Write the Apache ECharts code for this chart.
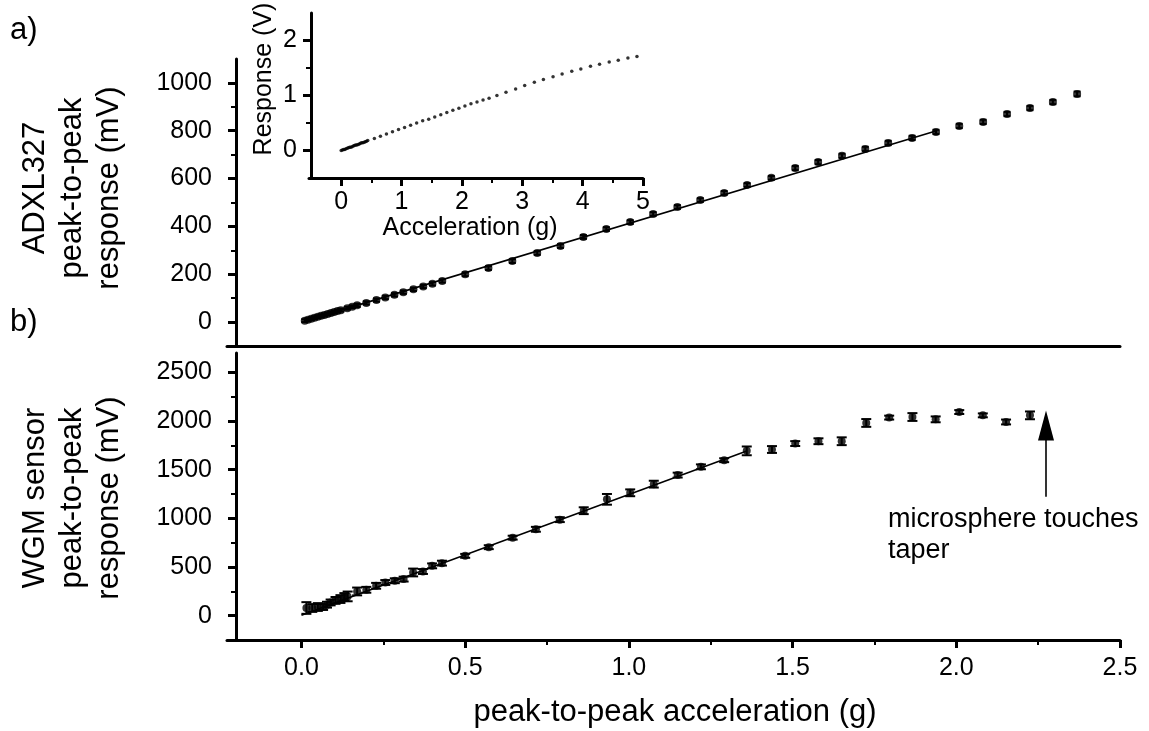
<!DOCTYPE html>
<html>
<head>
<meta charset="utf-8">
<script src="https://cdn.jsdelivr.net/npm/echarts@6/dist/echarts.min.js"></script>
<style>
  html, body { margin: 0; padding: 0; background: #fff; }
  #chart { width: 1149px; height: 731px; }
</style>
</head>
<body>
<div id="chart"></div>
<script>
// a) ADXL327 accelerometer: peak-to-peak acceleration (g) vs response (mV)
const adxlAccel = [0.01, 0.02, 0.03, 0.04, 0.05, 0.06, 0.07, 0.08, 0.09, 0.10, 0.11, 0.12, 0.14, 0.155,
  0.170, 0.198, 0.229, 0.256, 0.284, 0.311, 0.342, 0.372, 0.400, 0.430, 0.500, 0.571, 0.644, 0.720,
  0.791, 0.861, 0.931, 1.004, 1.074, 1.148, 1.218, 1.291, 1.361, 1.435, 1.508, 1.578, 1.651, 1.722,
  1.792, 1.865, 1.938, 2.009, 2.082, 2.155, 2.225, 2.295, 2.369];
const adxlResp = [6, 10, 14, 18, 22, 26, 30, 34, 38, 42, 46, 50, 58, 64,
  70, 80, 92, 103, 114, 125, 137, 149, 160, 172, 200, 226, 255, 289,
  318, 356, 389, 418, 452, 481, 510, 540, 573, 603, 644, 669, 695, 724,
  749, 770, 795, 820, 837, 870, 895, 920, 954];
const adxlErr = [6, 6, 6, 6, 6, 6, 6, 6, 6, 6, 6, 6, 6, 6,
  7, 7, 7, 7, 7, 7, 7, 7, 7, 7, 8, 8, 8, 8,
  8, 8, 8, 8, 8, 8, 8, 8, 8, 8, 9, 9, 9, 9,
  9, 9, 9, 9, 9, 9, 9, 9, 10];
const adxlFit = [[0.01, 4], [1.94, 800]];

// b) WGM sensor: peak-to-peak acceleration (g) vs response (mV)
const wgmAccel = [0.015, 0.033, 0.050, 0.066, 0.078, 0.089, 0.104, 0.119, 0.131, 0.141, 0.170, 0.198,
  0.228, 0.256, 0.285, 0.312, 0.341, 0.371, 0.399, 0.429, 0.500, 0.572, 0.645, 0.716, 0.789, 0.862,
  0.933, 1.004, 1.076, 1.149, 1.220, 1.291, 1.360, 1.437, 1.508, 1.579, 1.650, 1.725, 1.795, 1.866,
  1.937, 2.009, 2.081, 2.152, 2.225];
const wgmResp = [79, 79, 89, 89, 113, 136, 157, 171, 192, 198, 249, 266,
  307, 341, 359, 376, 444, 454, 512, 540, 615, 704, 802, 888, 987, 1079,
  1196, 1263, 1352, 1445, 1530, 1598, 1694, 1708, 1769, 1793, 1793, 1981, 2036, 2042,
  2018, 2093, 2059, 1991, 2059];
const wgmErr = [60, 40, 40, 30, 30, 30, 35, 40, 40, 50, 40, 30,
  30, 25, 25, 25, 40, 25, 25, 25, 20, 20, 20, 25, 25, 35,
  55, 35, 35, 25, 25, 20, 45, 35, 25, 30, 40, 40, 20, 40,
  30, 20, 20, 25, 40];
const wgmFit = [[0.0, 5], [1.36, 1693]];

// arrow marking where the microsphere touches the taper (tail, head centre)
const arrowAccel = [2.274, 2.274];
const arrowResp = [1222, 1955];
const noteText = ['microsphere touches', 'taper'];

// inset: ADXL327 response (V) over the full 0-5 g range
const insetAccel = [0.00, 0.02, 0.04, 0.06, 0.08, 0.10, 0.12, 0.14, 0.16, 0.18, 0.20, 0.22, 0.24, 0.26,
  0.28, 0.30, 0.32, 0.34, 0.36, 0.38, 0.40, 0.42, 0.44,
  0.55, 0.65, 0.75, 0.85, 0.95, 1.05, 1.15, 1.25, 1.35, 1.45, 1.55, 1.65, 1.75, 1.85, 1.95, 2.05,
  2.15, 2.25, 2.35, 2.45,
  2.58, 2.73, 2.89, 3.04, 3.20, 3.35, 3.51, 3.66, 3.82, 3.97, 4.13, 4.28, 4.44, 4.59, 4.75, 4.90];
const insetResp = [0.00, 0.01, 0.02, 0.02, 0.03, 0.04, 0.05, 0.06, 0.06, 0.07, 0.08, 0.09, 0.10, 0.10,
  0.11, 0.12, 0.13, 0.14, 0.14, 0.15, 0.16, 0.17, 0.18,
  0.22, 0.26, 0.30, 0.34, 0.38, 0.42, 0.46, 0.50, 0.54, 0.57, 0.61, 0.65, 0.69, 0.73, 0.77, 0.81,
  0.85, 0.88, 0.92, 0.95,
  1.00, 1.06, 1.12, 1.18, 1.24, 1.29, 1.34, 1.39, 1.44, 1.48, 1.53, 1.57, 1.61, 1.64, 1.68, 1.71];

// axis ranges and labelled tick ranges: [min, max, interval]
const mainXRange = [-0.2, 2.5];
const mainXTicks = [0, 2.5, 0.5];
const topYRange = [-100, 1100];
const topYTicks = [0, 1000, 200];
const botYRange = [-250, 2700];
const botYTicks = [0, 2500, 500];
const insetXRange = [-0.5, 5];
const insetXTicks = [0, 5, 1];
const insetYRange = [-0.5, 2.5];
const insetYTicks = [0, 2, 1];

const FONT = 'Liberation Sans, Arial, sans-serif';
const INK = '#000';

// plot frames (pixels); overhang = how far the x axis line runs past the y axis on the left
const frameTop = { left: 236, top: 59, width: 884, height: 287 };
const frameBot = { left: 236, top: 353, width: 884, height: 287 };
const frameInset = { left: 311, top: 13, width: 332, height: 165 };

const grids = [];
const xAxes = [];
const yAxes = [];
const series = [];

function addGrid(g) { grids.push(Object.assign({ containLabel: false }, g)); return grids.length - 1; }

const axisLineStyle = { show: true, onZero: false, lineStyle: { color: INK, width: 3 } };
function hiddenAxis(gi, range) {
  return { type: 'value', gridIndex: gi, min: range[0], max: range[1], show: false,
    axisLine: { onZero: false } };
}
function frameAxis(gi, range, offset) {
  return {
    type: 'value', gridIndex: gi, min: range[0], max: range[1], offset: offset || 0,
    axisLine: axisLineStyle,
    axisTick: { show: false }, axisLabel: { show: false }, splitLine: { show: false }
  };
}
function tickAxis(gi, ticks, fontSize, margin, fmt) {
  return {
    type: 'value', gridIndex: gi, min: ticks[0], max: ticks[1], interval: ticks[2],
    axisLine: { show: false, onZero: false },
    axisTick: { show: true, length: 8, lineStyle: { color: INK, width: 3 } },
    minorTick: { show: true, splitNumber: 2, length: 5, lineStyle: { color: INK, width: 2 } },
    axisLabel: { show: true, color: INK, fontFamily: FONT, fontSize: fontSize, margin: margin, formatter: fmt },
    splitLine: { show: false }, minorSplitLine: { show: false }
  };
}

// Builds a panel: frame grid with axis lines plus tick/label grids aligned to the same scale
function buildPanel(frame, xr, yr, xt, yt, opts) {
  const sx = frame.width / (xr[1] - xr[0]);
  const sy = frame.height / (yr[1] - yr[0]);
  const over = opts.overhang || 0;
  const gi = addGrid({ left: frame.left - over, width: frame.width + over, top: frame.top, height: frame.height });
  xAxes.push(frameAxis(gi, [xr[0] - over / sx, xr[1]]));
  yAxes.push(frameAxis(gi, yr, -over));
  const main = { grid: gi, x: xAxes.length - 1, y: yAxes.length - 1 };
  if (xt) {
    const g = addGrid({ left: frame.left + (xt[0] - xr[0]) * sx, width: (xt[1] - xt[0]) * sx,
      top: frame.top, height: frame.height });
    xAxes.push(tickAxis(g, xt, opts.fontSize, opts.xMargin, opts.xFmt));
    yAxes.push(hiddenAxis(g, yr));
  }
  if (yt) {
    const g = addGrid({ left: frame.left, width: frame.width,
      top: frame.top + (yr[1] - yt[1]) * sy, height: (yt[1] - yt[0]) * sy });
    xAxes.push(hiddenAxis(g, xr));
    yAxes.push(tickAxis(g, yt, opts.fontSize, opts.yMargin, opts.yFmt));
  }
  return main;
}

const fmt1 = v => v.toFixed(1);
const fmt0 = v => String(Math.round(v));

const pTop = buildPanel(frameTop, mainXRange, topYRange, null, topYTicks,
  { fontSize: 25, yMargin: 24, yFmt: fmt0, overhang: 9 });
const pBot = buildPanel(frameBot, mainXRange, botYRange, mainXTicks, botYTicks,
  { fontSize: 25, xMargin: 16, yMargin: 24, xFmt: fmt1, yFmt: fmt0, overhang: 9 });
const pIn = buildPanel(frameInset, insetXRange, insetYRange, insetXTicks, insetYTicks,
  { fontSize: 25, xMargin: 12, yMargin: 14, xFmt: fmt0, yFmt: fmt0, overhang: 2 });

function zip(a, b) { return a.map((v, i) => [v, b[i]]); }

function errorBars(p, accel, resp, err, capW, lw) {
  return {
    type: 'custom', xAxisIndex: p.x, yAxisIndex: p.y, z: 3, silent: true,
    data: accel.map((a, i) => [a, resp[i] - err[i], resp[i] + err[i]]),
    encode: { x: 0, y: [1, 2] },
    renderItem: (params, api) => {
      const lo = api.coord([api.value(0), api.value(1)]);
      const hi = api.coord([api.value(0), api.value(2)]);
      const st = { stroke: INK, lineWidth: lw };
      return {
        type: 'group', children: [
          { type: 'line', shape: { x1: lo[0], y1: lo[1], x2: hi[0], y2: hi[1] }, style: st },
          { type: 'line', shape: { x1: lo[0] - capW / 2, y1: lo[1], x2: lo[0] + capW / 2, y2: lo[1] }, style: st },
          { type: 'line', shape: { x1: hi[0] - capW / 2, y1: hi[1], x2: hi[0] + capW / 2, y2: hi[1] }, style: st }
        ]
      };
    }
  };
}

function fitLine(p, pts, extra) {
  return Object.assign({
    type: 'line', xAxisIndex: p.x, yAxisIndex: p.y, data: pts, showSymbol: false, silent: true,
    lineStyle: { color: INK, width: 1.6 }, z: 2, animation: false
  }, extra || {});
}

function dots(p, accel, resp, size) {
  return {
    type: 'scatter', xAxisIndex: p.x, yAxisIndex: p.y, data: zip(accel, resp),
    symbol: 'circle', symbolSize: size, itemStyle: { color: INK }, z: 4, silent: true
  };
}

// panel a)
series.push(fitLine(pTop, adxlFit));
series.push(errorBars(pTop, adxlAccel, adxlResp, adxlErr, 7, 2));
series.push(dots(pTop, adxlAccel, adxlResp, 8));

// panel b)
series.push(fitLine(pBot, wgmFit, {
  markLine: {
    silent: true, animation: false, label: { show: false },
    lineStyle: { color: INK, width: 1.6, type: 'solid' },
    data: [[
      { coord: [arrowAccel[0], arrowResp[0]], symbol: 'none' },
      { coord: [arrowAccel[1], arrowResp[1]], symbol: 'triangle', symbolSize: [16, 30] }
    ]]
  }
}));
series.push(errorBars(pBot, wgmAccel, wgmResp, wgmErr, 10, 2));
series.push(dots(pBot, wgmAccel, wgmResp, 8));

// inset
series.push(dots(pIn, insetAccel, insetResp, 3.5));

function txt(x, y, text, size, opts) {
  opts = opts || {};
  return {
    type: 'text', x: x, y: y, rotation: opts.rotation || 0, silent: true,
    style: {
      text: text, fill: INK, font: size + 'px ' + FONT,
      textAlign: opts.align || 'center', align: opts.align || 'center',
      textVerticalAlign: opts.valign || 'middle', verticalAlign: opts.valign || 'middle',
      lineHeight: opts.lineHeight || size * 1.2
    }
  };
}

const R = Math.PI / 2;
const graphics = [
  txt(10, 30, 'a)', 31, { align: 'left' }),
  txt(10, 322, 'b)', 31, { align: 'left' }),
  txt(72, 188, 'ADXL327\npeak-to-peak\nresponse (mV)', 31, { rotation: R, lineHeight: 37 }),
  txt(72, 498, 'WGM sensor\npeak-to-peak\nresponse (mV)', 31, { rotation: R, lineHeight: 37 }),
  txt(675, 712, 'peak-to-peak acceleration (g)', 31),
  txt(470, 228, 'Acceleration (g)', 25),
  txt(264, 79, 'Response (V)', 25, { rotation: R }),
  txt(888, 535, noteText.join('\n'), 27, { align: 'left', lineHeight: 31 })
];

const chart = echarts.init(document.getElementById('chart'), null, { renderer: 'canvas' });
chart.setOption({
  backgroundColor: '#fff',
  animation: false,
  grid: grids,
  xAxis: xAxes,
  yAxis: yAxes,
  series: series,
  graphic: graphics
});
</script>
</body>
</html>
